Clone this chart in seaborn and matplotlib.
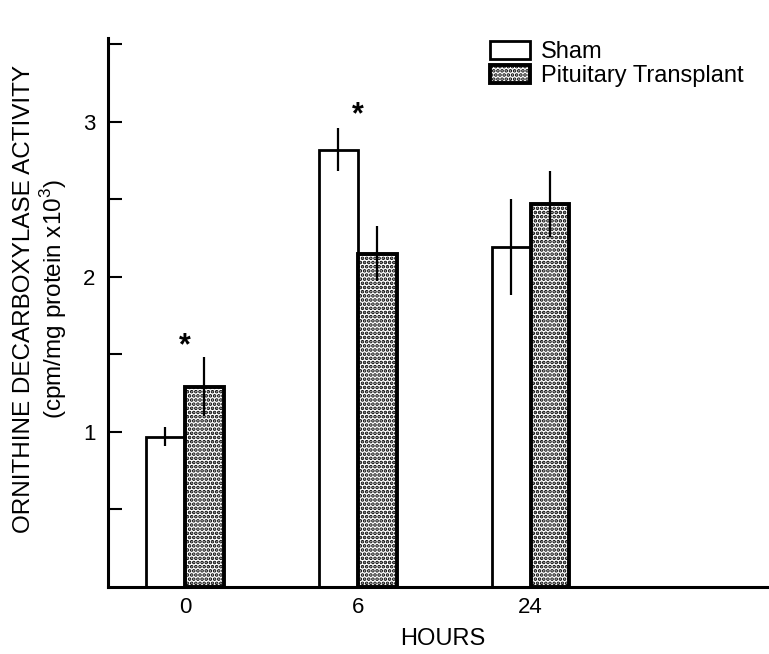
import matplotlib
matplotlib.use("Agg")
import pandas as pd
import seaborn as sns
import matplotlib.pyplot as plt
from matplotlib.patches import Patch
from matplotlib.ticker import FixedLocator

# values
hours = ["0", "6", "24"]
groups = ["Sham", "Pituitary Transplant"]
sham_mean = [0.97, 2.82, 2.19]
sham_err = [0.06, 0.14, 0.31]
pit_mean = [1.29, 2.15, 2.47]
pit_err = [0.19, 0.175, 0.21]
star_hours = ["0", "6"]
star_y = [1.60, 3.09]

df = pd.DataFrame({
    "hours": hours * 2,
    "group": [groups[0]] * len(hours) + [groups[1]] * len(hours),
    "activity": sham_mean + pit_mean,
})

sns.set_style("ticks")
plt.rcParams["font.family"] = ["Liberation Sans", "DejaVu Sans"]
plt.rcParams["mathtext.fontset"] = "custom"
plt.rcParams["mathtext.rm"] = "Liberation Sans"
plt.rcParams["hatch.linewidth"] = 1.8
for key in ["text.color", "axes.labelcolor", "xtick.color", "ytick.color", "axes.edgecolor"]:
    plt.rcParams[key] = "black"

fig = plt.figure(figsize=(7.69, 6.54), dpi=100)
ax = fig.add_axes([108 / 769, 67 / 654, 661 / 769, 549 / 654])

sns.barplot(data=df, x="hours", y="activity", hue="group", order=hours,
            hue_order=groups, palette=["white", "white"], saturation=1,
            width=0.45, errorbar=None, legend=False, ax=ax)

# outline, stipple and error bars per group
errs = [sham_err, pit_err]
lws = [2.0, 2.8]
hatches = [None, "...."]
for cont, err, lw, h in zip(ax.containers, errs, lws, hatches):
    for bar, e in zip(cont, err):
        bar.set_edgecolor("black")
        bar.set_linewidth(lw)
        bar.set_hatch(h)
        xc = bar.get_x() + bar.get_width() / 2
        ax.errorbar(xc, bar.get_height(), yerr=e, fmt="none", ecolor="black",
                    elinewidth=1.6, capsize=0, zorder=5)

# significance stars
for h, y in zip(star_hours, star_y):
    ax.text(hours.index(h), y - 0.1, "*", ha="center", va="baseline",
            fontsize=22, fontweight="bold")

ax.set_xlim(-0.445, 3.38)
ax.set_ylim(0, 3.54)
ax.spines[["top", "right"]].set_visible(False)
ax.spines["left"].set_linewidth(2.2)
ax.spines["bottom"].set_linewidth(2.2)

ax.yaxis.set_major_locator(FixedLocator([1, 2, 3]))
ax.yaxis.set_minor_locator(FixedLocator([0.5, 1.5, 2.5, 3.5]))
ax.tick_params(axis="y", which="both", direction="in", length=10, width=1.5,
               pad=9, labelsize=16)
ax.tick_params(axis="x", length=0, pad=7, labelsize=16)

ax.set_xlabel("HOURS", fontsize=17)
ax.xaxis.set_label_coords(0.507, -0.075)
ax.set_ylabel("ORNITHINE DECARBOXYLASE ACTIVITY\n(cpm/mg protein x10$^3$)",
              fontsize=17.5, linespacing=1.12)
ax.yaxis.set_label_coords(-0.059, 0.525)

handles = [
    Patch(facecolor="white", edgecolor="black", linewidth=2.0, label=groups[0]),
    Patch(facecolor="white", edgecolor="black", linewidth=2.8, hatch="....",
          label=groups[1]),
]
ax.legend(handles=handles, loc="upper left", bbox_to_anchor=(0.578, 0.995),
          frameon=False, fontsize=17, handlelength=1.7, handleheight=0.8,
          handletextpad=0.45, labelspacing=0.08, borderpad=0, borderaxespad=0)

fig.savefig("out.png", dpi=100)
